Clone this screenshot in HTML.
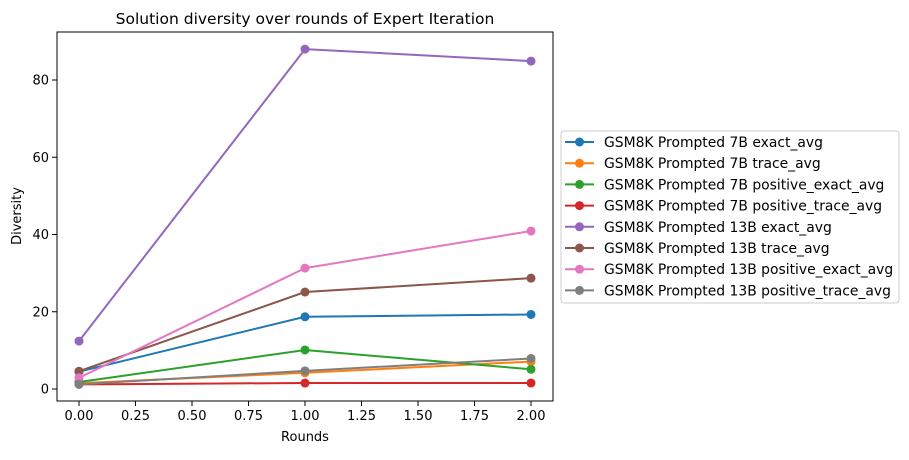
<!DOCTYPE html>
<html><head><meta charset="utf-8"><style>
body{margin:0;background:#fff;}
svg text{font-family:"DejaVu Sans","Liberation Sans",sans-serif;fill:#000;}
</style></head><body>
<svg id="chart" width="909" height="455" xmlns="http://www.w3.org/2000/svg">
<rect width="909" height="455" fill="#fff"/>
<text x="305" y="24" font-size="15.5" text-anchor="middle">Solution diversity over rounds of Expert Iteration</text>
<g id="axes"></g>
<g id="series"></g>
<g id="legend"></g>
</svg>
<script>
const rounds = [0, 1, 2];
const seriesNames = ["GSM8K Prompted 7B exact_avg","GSM8K Prompted 7B trace_avg","GSM8K Prompted 7B positive_exact_avg","GSM8K Prompted 7B positive_trace_avg","GSM8K Prompted 13B exact_avg","GSM8K Prompted 13B trace_avg","GSM8K Prompted 13B positive_exact_avg","GSM8K Prompted 13B positive_trace_avg"];
const s7bExact = [4.5, 18.7, 19.3];
const s7bTrace = [1.5, 4.2, 7.1];
const s7bPosExact = [1.8, 10.1, 5.1];
const s7bPosTrace = [1.2, 1.55, 1.55];
const s13bExact = [12.4, 88.0, 84.9];
const s13bTrace = [4.6, 25.1, 28.7];
const s13bPosExact = [2.9, 31.3, 40.9];
const s13bPosTrace = [1.2, 4.7, 7.9];
const xTicks = [0, 0.25, 0.5, 0.75, 1.0, 1.25, 1.5, 1.75, 2.0];
const xTickLabels = ["0.00","0.25","0.50","0.75","1.00","1.25","1.50","1.75","2.00"];
const yTicks = [0, 20, 40, 60, 80];
const colors = ["#1f77b4","#ff7f0e","#2ca02c","#d62728","#9467bd","#8c564b","#e377c2","#7f7f7f"];
const allSeries = [s7bExact,s7bTrace,s7bPosExact,s7bPosTrace,s13bExact,s13bTrace,s13bPosExact,s13bPosTrace];

const NS = "http://www.w3.org/2000/svg";
const L = 57, R = 553, T = 32, B = 401;
const xs = v => 79 + v * (531 - 79) / 2;
const ys = v => 389 - v * (389 - 80) / 80;
function mk(tag, attrs, parent){const e=document.createElementNS(NS,tag);for(const k in attrs)e.setAttribute(k,attrs[k]);parent.appendChild(e);return e;}
const axes = document.getElementById('axes');
const frame = mk('rect',{x:L,y:T,width:R-L,height:B-T,fill:'none',stroke:'#000','stroke-width':1},axes);


xTicks.forEach((t,i)=>{
  const x=xs(t);
  const tk=mk('line',{x1:x,x2:x,y1:B,y2:B+5,stroke:'#000','stroke-width':1},axes);
  
  
  const lb=mk('text',{x:x,y:B+19,'font-size':13,'text-anchor':'middle'},axes);
  lb.textContent=xTickLabels[i];
  
  
});
yTicks.forEach(t=>{
  const y=ys(t);
  const tk=mk('line',{x1:L-5,x2:L,y1:y,y2:y,stroke:'#000','stroke-width':1},axes);
  
  
  const lb=mk('text',{x:L-8,y:y+4.5,'font-size':13,'text-anchor':'end'},axes);
  lb.textContent=String(t);
  
  
});
const xt=mk('text',{x:305,y:441,'font-size':13,'text-anchor':'middle'},axes);
xt.textContent='Rounds';


const yt=mk('text',{x:21,y:216,'font-size':13,'text-anchor':'middle',transform:'rotate(-90 21 216)'},axes);
yt.textContent='Diversity';



const sg=document.getElementById('series');
allSeries.forEach((vals,i)=>{
  const g=mk('g',{},sg);
  
  
  const pts=vals.map((v,j)=>xs(rounds[j])+','+ys(v)).join(' ');
  const pl=mk('polyline',{points:pts,fill:'none',stroke:colors[i],'stroke-width':2},g);
  
  
  vals.forEach((v,j)=>{
    const c=mk('circle',{cx:xs(rounds[j]),cy:ys(v),r:4.5,fill:colors[i]},g);
    
    
  });
});

const lg=document.getElementById('legend');
const box=mk('rect',{x:561,y:131,width:338,height:172,rx:3,fill:'#fff',stroke:'#ccc','stroke-width':1},lg);


seriesNames.forEach((n,i)=>{
  const y=142+i*21.2;
  const g=mk('g',{},lg);
  
  
  mk('line',{x1:565,x2:594,y1:y,y2:y,stroke:colors[i],'stroke-width':2},g);
  mk('circle',{cx:579.5,cy:y,r:4.5,fill:colors[i]},g);
  const t=mk('text',{x:604,y:y+5,'font-size':13.9},g);
  t.textContent=n;
});
</script>
</body></html>
